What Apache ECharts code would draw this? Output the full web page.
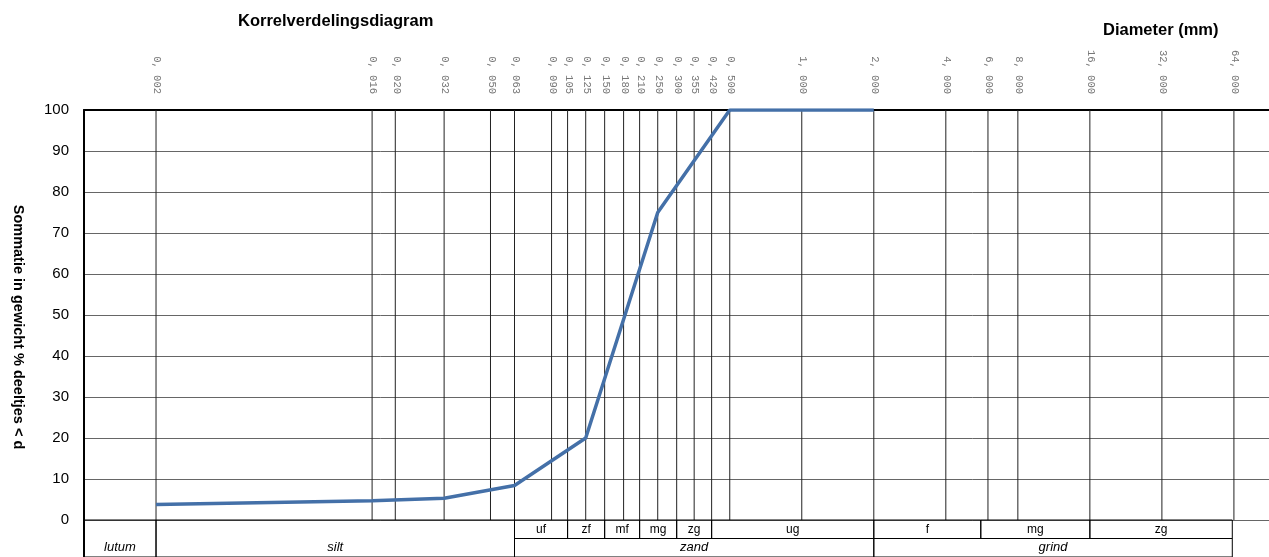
<!DOCTYPE html>
<html>
<head>
<meta charset="utf-8">
<script src="https://cdn.jsdelivr.net/npm/echarts@6/dist/echarts.min.js"></script>
<style>html,body{margin:0;padding:0;background:#fff}#c{width:1269px;height:557px}</style>
</head>
<body>
<div id="c"></div>
<script>
// ---- data ----
const sieveTicks = [0.002, 0.016, 0.020, 0.032, 0.050, 0.063, 0.090, 0.105, 0.125, 0.150, 0.180, 0.210, 0.250, 0.300, 0.355, 0.420, 0.500, 1.000, 2.000, 4.000, 6.000, 8.000, 16.000, 32.000, 64.000];
const diameters = [0.002, 0.016, 0.032, 0.063, 0.125, 0.250, 0.500, 1.000, 2.000];
const cumulative = [3.8, 4.7, 5.3, 8.4, 20, 75, 100, 100, 100];
const yTicks = [0, 10, 20, 30, 40, 50, 60, 70, 80, 90, 100];
const subBounds = [0.063, 0.105, 0.150, 0.210, 0.300, 0.420, 2.0, 5.6, 16, 63];
const subNames = ['uf', 'zf', 'mf', 'mg', 'zg', 'ug', 'f', 'mg', 'zg'];
const mainBounds = [0.001, 0.002, 0.063, 2.0, 63];
const mainNames = ['lutum', 'silt', 'zand', 'grind'];
const mainSpansBothRows = [true, true, false, false];

const X_MIN = 0.001, X_MAX = 89.7;
const FONT = '"Liberation Sans", Arial, sans-serif';

function fmt(v) { return v.toFixed(3).replace('.', ', '); }

const tableData = [];
for (let i = 0; i < subNames.length; i++) tableData.push([subBounds[i], subBounds[i + 1], 0, 1, subNames[i], 0]);
for (let i = 0; i < mainNames.length; i++) tableData.push([mainBounds[i], mainBounds[i + 1], mainSpansBothRows[i] ? 0 : 1, 2, mainNames[i], 1]);

const chart = echarts.init(document.getElementById('c'), null, { renderer: 'canvas' });
chart.setOption({
  animation: false,
  backgroundColor: '#fff',
  title: [
    { text: 'Korrelverdelingsdiagram', left: 238, top: 13, padding: 0,
      textStyle: { fontFamily: FONT, fontSize: 16.5, fontWeight: 'bold', color: '#000' } },
    { text: 'Diameter (mm)', left: 1103, top: 22, padding: 0,
      textStyle: { fontFamily: FONT, fontSize: 16.5, fontWeight: 'bold', color: '#000' } }
  ],
  grid: [
    { left: 84, right: 0, top: 110, height: 410 },
    { left: 84, right: 0, top: 520, height: 40 }
  ],
  xAxis: [
    { type: 'log', logBase: 2, min: X_MIN, max: X_MAX, gridIndex: 0, position: 'top',
      axisLine: { show: true, onZero: false, lineStyle: { color: '#000', width: 2 } },
      axisTick: { show: false }, axisLabel: { show: false }, splitLine: { show: false } },
    { type: 'log', logBase: 2, min: X_MIN, max: X_MAX, gridIndex: 1, show: false }
  ],
  yAxis: [
    { type: 'value', min: 0, max: 100, interval: 10, gridIndex: 0,
      name: 'Sommatie in gewicht % deeltjes < d', nameLocation: 'middle', nameRotate: -90, nameGap: 59,
      nameTextStyle: { fontFamily: FONT, fontSize: 14.5, fontWeight: 'bold', color: '#000', padding: [0, 0, 0, 24] },
      axisLine: { show: true, onZero: false, lineStyle: { color: '#000', width: 2 } },
      axisTick: { show: false },
      axisLabel: { margin: 15, fontFamily: FONT, fontSize: 15, color: '#000' },
      splitLine: { show: true, lineStyle: { color: '#666', width: 1 } } },
    { type: 'value', min: 0, max: 2, inverse: true, gridIndex: 1,
      axisLine: { show: true, onZero: false, lineStyle: { color: '#000', width: 2 } },
      axisTick: { show: false }, axisLabel: { show: false }, splitLine: { show: false } }
  ],
  series: [
    {
      type: 'custom', xAxisIndex: 0, yAxisIndex: 0, z: 1, silent: true, clip: false,
      data: sieveTicks.map(t => [t, 100]),
      encode: { x: 0, y: 1 },
      renderItem: function (params, api) {
        const v = api.value(0);
        const top = api.coord([v, 100]);
        const bot = api.coord([v, 0]);
        return {
          type: 'group',
          children: [
            { type: 'line', shape: { x1: top[0], y1: top[1], x2: bot[0], y2: bot[1] },
              style: { stroke: '#222', lineWidth: 1 } },
            { type: 'text', x: top[0] + 1, y: top[1] - 16, rotation: -Math.PI / 2,
              style: { text: fmt(v), x: 0, y: 0, fill: '#777', textFill: '#777',
                font: '10.5px "Liberation Mono", "DejaVu Sans Mono", monospace',
                align: 'right', textAlign: 'right', verticalAlign: 'middle', textVerticalAlign: 'middle' } }
          ]
        };
      }
    },
    {
      type: 'custom', xAxisIndex: 1, yAxisIndex: 1, z: 1, silent: true, clip: false,
      data: tableData,
      encode: { x: [0, 1], y: [2, 3] },
      renderItem: function (params, api) {
        const x0 = api.value(0), x1 = api.value(1), r0 = api.value(2), r1 = api.value(3);
        const label = tableData[params.dataIndex][4];
        const italic = tableData[params.dataIndex][5] === 1;
        const p0 = api.coord([x0, r0]);
        const p1 = api.coord([x1, r1]);
        const textRowTop = api.coord([x0, r1 - 1]);
        const textRowBot = api.coord([x0, r1]);
        return {
          type: 'group',
          children: [
            { type: 'rect', shape: { x: p0[0], y: p0[1], width: p1[0] - p0[0], height: p1[1] - p0[1] },
              style: { fill: 'none', stroke: '#000', lineWidth: 1 } },
            { type: 'text', x: (p0[0] + p1[0]) / 2, y: (textRowTop[1] + Math.min(textRowBot[1], 558)) / 2,
              style: { text: label, x: 0, y: 0, fill: '#000', textFill: '#000',
                font: (italic ? 'italic 13px ' : '12px ') + FONT,
                align: 'center', textAlign: 'center', verticalAlign: 'middle', textVerticalAlign: 'middle' } }
          ]
        };
      }
    },
    {
      type: 'line', xAxisIndex: 0, yAxisIndex: 0, z: 5,
      data: diameters.map((d, i) => [d, cumulative[i]]),
      symbol: 'none', smooth: false,
      lineStyle: { color: '#4470a8', width: 3.5 }
    }
  ]
});
</script>
</body>
</html>
